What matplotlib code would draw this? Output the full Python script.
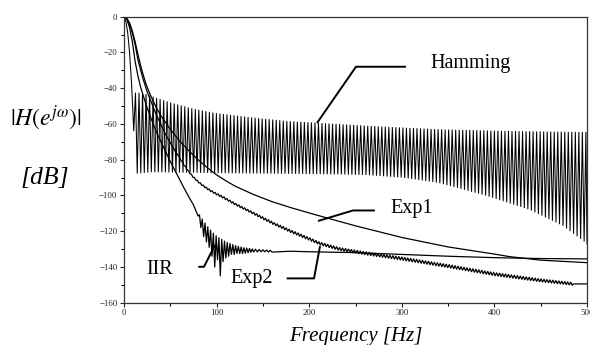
import numpy as np
import matplotlib
matplotlib.use("Agg")
import matplotlib.pyplot as plt

plt.rcParams['font.family'] = ['Liberation Serif', 'DejaVu Serif']
plt.rcParams['mathtext.fontset'] = 'stix'

# ---------------- data ----------------
# Hamming window: main lobe, then side lobes between two envelopes
ham_main_f = [0, 2, 4, 6, 8, 9.5, 10.5]
ham_main_db = [0, -2.5, -9, -20, -36, -52, -64]
ham_lobe_spacing = 3.8
ham_peak_f = [10, 20, 30, 50, 75, 100, 140, 180, 230, 280, 340, 420, 500]
ham_peak_db = [-42.5, -42.5, -44.5, -48, -51.5, -54, -56.5, -58.5, -60, -61.5, -63, -64, -64.5]
ham_null_f = [10, 30, 100, 200, 260, 300, 340, 390, 438, 474, 500]
ham_null_db = [-88, -87, -87.5, -88, -88.5, -90, -93, -100, -108, -117, -127]

# IIR: smooth curve plus a band of deep notches around 100 Hz
iir_f = [0, 3, 6, 9, 12, 15, 18, 21, 25, 30, 35, 40, 45, 50, 55, 60, 65, 70, 75, 80,
         85, 90, 95, 100, 110, 120, 130, 140, 160, 180, 200, 250, 300, 350, 400, 450, 500]
iir_db = [0, -1.5, -6, -14, -25, -33, -39.5, -44.5, -51, -58, -64.5, -70, -75.5, -81, -86, -91,
          -96, -100.8, -105.3, -109.6, -113.6, -117.2, -120.3, -122.8, -126, -128, -129.3, -130,
          -130.8, -131.2, -131.5, -132, -133, -134, -134.8, -135.3, -135.5]
iir_notch_f = [80, 83, 86, 89, 92, 95, 98, 101, 104, 107, 110, 113, 116, 119, 122, 125, 128,
               131, 134, 137, 140, 144, 148, 152, 156, 160]
iir_notch_db = [-111.5, -118, -123, -126, -129, -134, -140, -136, -145, -137, -135, -134, -133,
                -133, -132.5, -132.5, -132.5, -132.3, -132, -131.8, -131.6, -131.6, -131.5,
                -131.5, -131.6, -131.7]

# Exp1: smooth
exp1_f = [0, 3, 6, 9, 12, 15, 18, 21, 24, 27, 30, 35, 40, 50, 60, 70, 80, 90, 100, 110, 120,
          140, 160, 180, 200, 222, 250, 300, 350, 400, 416, 450, 500]
exp1_db = [0, -1, -3.5, -8, -14, -21, -27.5, -33, -38, -42, -45.5, -51, -55.5, -63, -69.5, -75,
           -80, -84.5, -88.5, -91.8, -94.8, -99.5, -103.5, -106.8, -109.8, -113, -117, -123.5,
           -128.8, -132.8, -134.2, -136.2, -137.6]

# Exp2: with a fine ripple
exp2_f = [0, 3, 6, 9, 12, 15, 18, 21, 25, 30, 35, 40, 45, 50, 55, 60, 65, 70, 75, 80, 85, 90,
          95, 100, 107, 120, 140, 160, 180, 200, 211, 233, 260, 300, 350, 400, 450, 485, 500]
exp2_db = [0, -1, -4, -9, -15.5, -24, -30, -35.5, -42, -48.5, -55, -60.5, -66, -70.5, -75, -79,
           -83, -86.8, -89.8, -92.3, -94.4, -96.2, -97.8, -99.2, -101, -104.8, -110, -115.3,
           -120, -124.3, -126.8, -130, -132.3, -135.3, -139.5, -144, -147.5, -149.5, -149.5]
exp2_ripple_f = [60, 100, 200, 300, 400, 485]
exp2_ripple_amp = [0.3, 0.5, 0.8, 0.9, 0.9, 0.8]
exp2_ripple_period = 3.2

x_ticks = [0, 100, 200, 300, 400, 500]
y_ticks = [0, -20, -40, -60, -80, -100, -120, -140, -160]

# ---------------- build drawable series ----------------
# Hamming zigzag
nulls = np.arange(ham_main_f[-1] + ham_lobe_spacing, 500, ham_lobe_spacing)
peaks = np.concatenate([[ham_main_f[-1] + ham_lobe_spacing / 2], nulls + ham_lobe_spacing / 2])
peaks = peaks[peaks < 500]
hf = np.concatenate([ham_main_f, nulls, peaks, [500]])
hd = np.concatenate([ham_main_db,
                     np.interp(nulls, ham_null_f, ham_null_db),
                     np.interp(peaks, ham_peak_f, ham_peak_db),
                     [ham_null_db[-1]]])
o = np.argsort(hf)
hf, hd = hf[o], hd[o]

# IIR with notches
iir_f_a = np.array(iir_f, float)
iir_db_a = np.array(iir_db, float)
keep = (iir_f_a < iir_notch_f[0]) | (iir_f_a > iir_notch_f[-1])
mids = np.array(iir_notch_f[:-1], float) + np.diff(iir_notch_f) / 2
If = np.concatenate([iir_f_a[keep], iir_notch_f, mids])
Id = np.concatenate([iir_db_a[keep], iir_notch_db, np.interp(mids, iir_f, iir_db)])
o = np.argsort(If)
If, Id = If[o], Id[o]

# Exp2 with ripple
rf = np.arange(exp2_ripple_f[0], exp2_ripple_f[-1], exp2_ripple_period / 2)
sign = np.where(np.arange(len(rf)) % 2 == 0, 1.0, -1.0)
rd = np.interp(rf, exp2_f, exp2_db) + sign * np.interp(rf, exp2_ripple_f, exp2_ripple_amp)
e2f_a = np.array(exp2_f, float)
keep2 = (e2f_a < exp2_ripple_f[0]) | (e2f_a >= exp2_ripple_f[-1])
E2f = np.concatenate([e2f_a[keep2], rf])
E2d = np.concatenate([np.array(exp2_db, float)[keep2], rd])
o = np.argsort(E2f)
E2f, E2d = E2f[o], E2d[o]

# ---------------- figure ----------------
fig = plt.figure(figsize=(5.9, 3.45), dpi=100)
ax = fig.add_axes([124 / 590, 1 - 302.7 / 345, (587 - 124) / 590, (302.7 - 16.7) / 345])

ax.plot(hf, hd, color='black', lw=0.75, solid_joinstyle='miter')
ax.plot(If, Id, color='black', lw=0.9)
ax.plot(exp1_f, exp1_db, color='black', lw=0.9)
ax.plot(E2f, E2d, color='black', lw=0.9)

ax.set_xlim(0, 500)
ax.set_ylim(-160, 0)
ax.set_xticks(x_ticks)
ax.set_yticks(y_ticks)
ax.set_xticks([50, 150, 250, 350, 450], minor=True)
ax.set_yticks([-10, -30, -50, -70, -90, -110, -130, -150], minor=True)
ax.tick_params(which='major', direction='out', length=3, width=0.8, labelsize=6.3,
               pad=1.8, colors='#222222')
ax.tick_params(which='minor', direction='out', length=2.5, width=0.8)
for s in ax.spines.values():
    s.set_linewidth(0.9)
    s.set_color('#333333')

ann_kw = dict(color='black', lw=1.4, solid_capstyle='butt')
txt_kw = dict(fontsize=14.5, va='baseline', ha='left', color='black')

# Hamming label
ax.plot([304.5, 250.5, 208.4], [-28, -28, -59.5], **ann_kw)
ax.text(330.5, -28.7, 'Hamming', **txt_kw)
# Exp1 label
ax.plot([271, 247.3, 209.5], [-108.4, -108.4, -114.3], **ann_kw)
ax.text(287.3, -109.8, 'Exp1', **txt_kw)
# Exp2 label
ax.plot([175.7, 205.2, 211.7], [-146.4, -146.4, -128.3], **ann_kw)
ax.text(114.5, -148.9, 'Exp2', **txt_kw)
# IIR label
ax.plot([80.2, 86.4, 98.3], [-139.9, -139.9, -127.7], **ann_kw)
ax.text(24.5, -144, 'IIR', **txt_kw)

fig.text(356 / 590, 1 - 341 / 345, 'Frequency [Hz]', fontsize=15, style='italic',
         ha='center', va='baseline')
fig.text(46 / 590, 1 - 118 / 345, r'$|H(e^{j\omega})|$', fontsize=17, ha='center', va='center')
fig.text(45 / 590, 1 - 178 / 345, '[dB]', fontsize=18.5, style='italic', ha='center', va='center')

fig.savefig('out.png', dpi=100)
